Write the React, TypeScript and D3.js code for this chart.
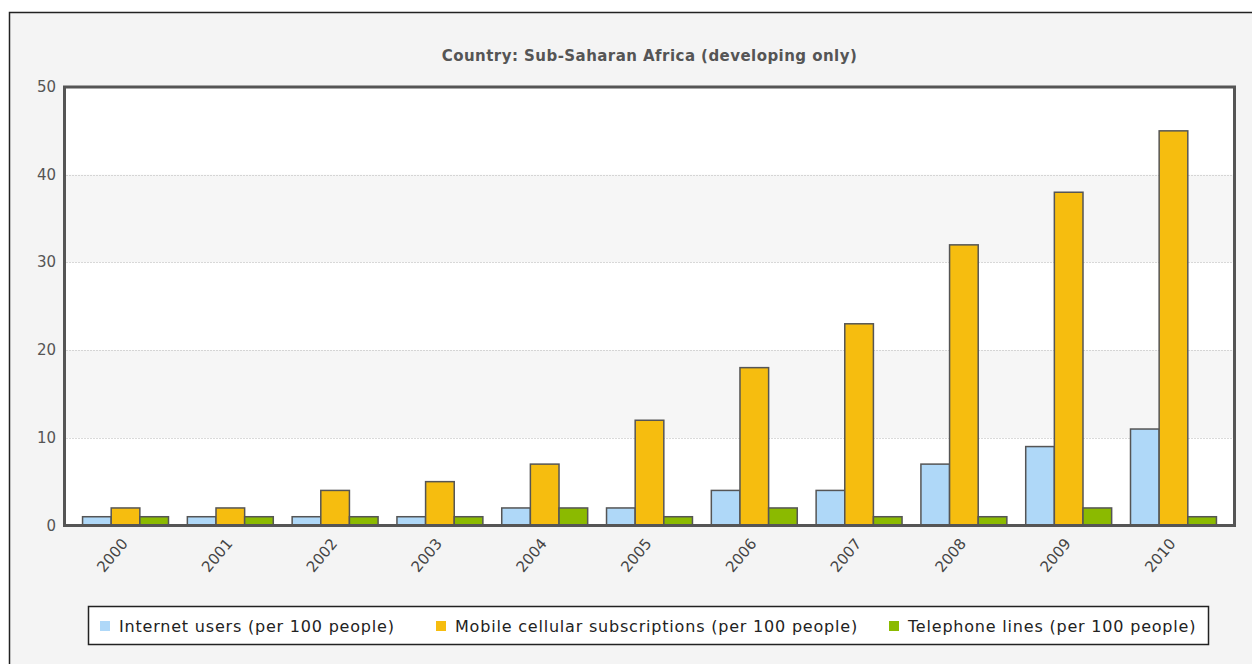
import React from "react";
import * as d3 from "d3";

const years = ["2000", "2001", "2002", "2003", "2004", "2005", "2006", "2007", "2008", "2009", "2010"];
const internetUsers = [1, 1, 1, 1, 2, 2, 4, 4, 7, 9, 11];
const mobileSubs = [2, 2, 4, 5, 7, 12, 18, 23, 32, 38, 45];
const telephoneLines = [1, 1, 1, 1, 2, 1, 2, 1, 1, 2, 1];
const seriesNames = [
  "Internet users (per 100 people)",
  "Mobile cellular subscriptions (per 100 people)",
  "Telephone lines (per 100 people)",
];
const seriesColors = ["#afd8f8", "#f6bd0f", "#8bba00"];
const yTicks = [0, 10, 20, 30, 40, 50];
const title = "Country: Sub-Saharan Africa (developing only)";

const W = 1252;
const H = 664;
const plot = { left: 64.5, right: 1234.5, top: 87, bottom: 525.5 };
const FONT = "'DejaVu Sans', Verdana, sans-serif";

export default function App() {
  const series = [internetUsers, mobileSubs, telephoneLines];
  const x = d3
    .scaleBand<string>()
    .domain(years)
    .range([plot.left + 1.5, plot.right - 1.5])
    .paddingInner(0.18)
    .paddingOuter(0.158);
  const xs = d3
    .scaleBand<number>()
    .domain(series.map((_, i) => i))
    .range([0, x.bandwidth()]);
  const y = d3.scaleLinear().domain([0, 50]).range([plot.bottom, plot.top]);

  const bands = d3.range(0, 50, 10).filter((v) => (v / 10) % 2 === 1);
  const legendX = [100, 436, 889];

  return (
    <svg
      width={W}
      height={H}
      style={{ position: "absolute", left: 0, top: 0, background: "#fff" }}
      fontFamily={FONT}
    >
      <rect x={9.5} y={12.5} width={1300} height={700} fill="#f4f4f4" stroke="#222" strokeWidth={1.5} />
      <text
        x={(plot.left + plot.right) / 2}
        y={61}
        textAnchor="middle"
        fontWeight="bold"
        fontSize={15}
        letterSpacing={0.45}
        fill="#555"
      >
        {title}
      </text>
      {/* plot background */}
      <rect x={plot.left} y={plot.top} width={plot.right - plot.left} height={plot.bottom - plot.top} fill="#fff" />
      {bands.map((v) => (
        <rect
          key={"b" + v}
          x={plot.left}
          y={y(v + 10)}
          width={plot.right - plot.left}
          height={y(v) - y(v + 10)}
          fill="#f6f6f6"
        />
      ))}
      {yTicks
        .filter((v) => v !== 0 && v !== 50)
        .map((v) => (
          <line
            key={"g" + v}
            x1={plot.left + 2}
            x2={plot.right - 2}
            y1={Math.round(y(v)) + 0.5}
            y2={Math.round(y(v)) + 0.5}
            stroke="#b4b4b4"
            strokeDasharray="1,2"
          />
        ))}
      {yTicks.map((v) => (
        <text key={"t" + v} x={56} y={y(v) + 5} textAnchor="end" fontSize={15} fill="#555">
          {v}
        </text>
      ))}
      {years.map((yr, i) => (
        <g key={yr} transform={`translate(${x(yr)!},0)`}>
          {series.map((s, j) => (
            <rect
              key={j}
              x={xs(j)!}
              y={y(s[i])}
              width={xs.bandwidth()}
              height={y(0) - y(s[i])}
              fill={seriesColors[j]}
              stroke="#555"
              strokeWidth={1.5}
            />
          ))}
        </g>
      ))}
      <rect
        x={plot.left}
        y={plot.top}
        width={plot.right - plot.left}
        height={plot.bottom - plot.top}
        fill="none"
        stroke="#555"
        strokeWidth={3}
      />
      {years.map((yr) => {
        const cx = x(yr)! + x.bandwidth() / 2 + 3;
        const cy = 544;
        return (
          <text
            key={"l" + yr}
            transform={`translate(${cx},${cy}) rotate(-50)`}
            textAnchor="end"
            fontSize={15}
            fill="#444"
          >
            {yr}
          </text>
        );
      })}
      <rect x={88.5} y={606.5} width={1120} height={38} fill="#fff" stroke="#222" strokeWidth={1.5} />
      {seriesNames.map((name, i) => (
        <g key={name}>
          <rect x={legendX[i]} y={621} width={10} height={10} fill={seriesColors[i]} />
          <text x={legendX[i] + 19} y={632} fontSize={16} letterSpacing={0.8} fill="#222">
            {name}
          </text>
        </g>
      ))}
    </svg>
  );
}
